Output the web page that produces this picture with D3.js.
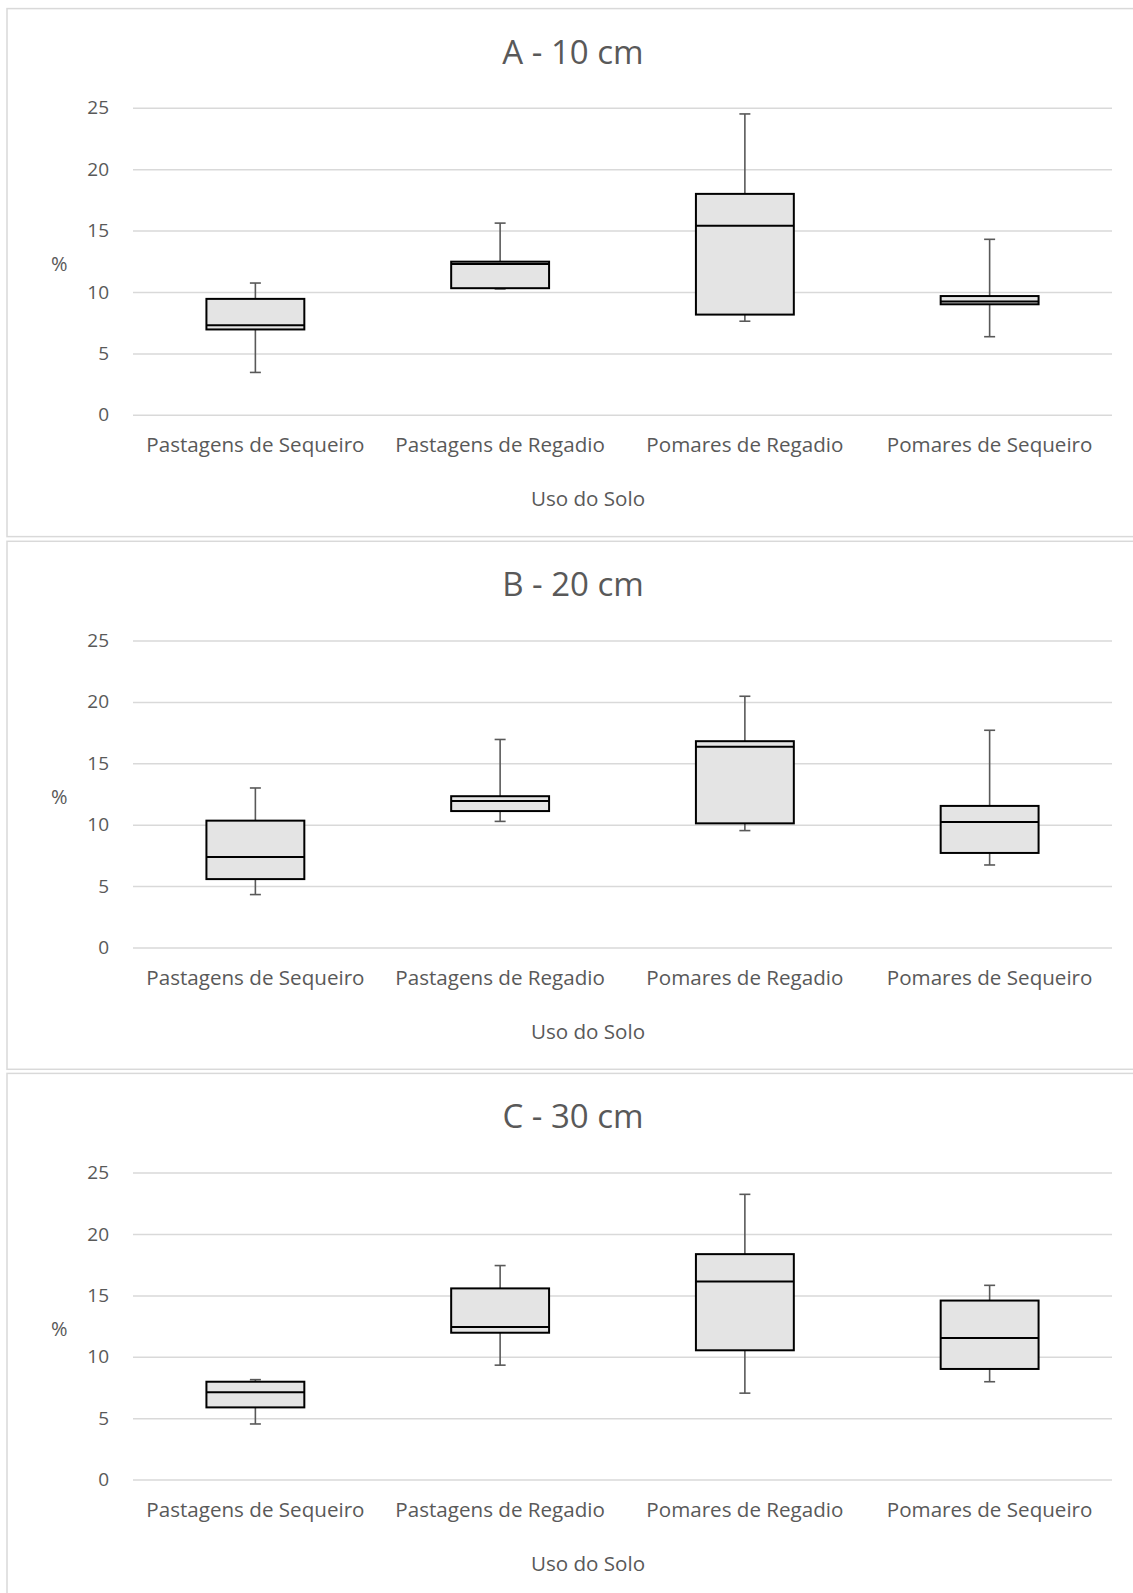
<!DOCTYPE html>
<html>
<head>
<meta charset="utf-8">
<script src="https://cdn.jsdelivr.net/npm/d3@7"></script>
<style>
  body { margin: 0; background: #fff; }
  svg text { font-family: "Open Sans", sans-serif; fill: #595959; }
</style>
</head>
<body>
<svg id="chart" width="1133" height="1593"></svg>
<script>
// categories (land use)
const categories = ["Pastagens de Sequeiro", "Pastagens de Regadio", "Pomares de Regadio", "Pomares de Sequeiro"];
const panelTitles = ["A - 10 cm", "B - 20 cm", "C - 30 cm"];
const yTicks = [0, 5, 10, 15, 20, 25];

// box stats per panel: [min, q1, median, q3, max] for each category
const statsA = [
  [3.45, 6.95, 7.29, 9.44, 10.73],
  [10.25, 10.31, 12.28, 12.47, 15.61],
  [7.62, 8.16, 15.39, 17.99, 24.5],
  [6.36, 9.0, 9.22, 9.67, 14.29]
];
const statsB = [
  [4.31, 5.57, 7.36, 10.33, 12.99],
  [10.27, 11.11, 11.93, 12.32, 16.94],
  [9.52, 10.11, 16.35, 16.8, 20.46],
  [6.72, 7.7, 10.22, 11.53, 17.69]
];
const statsC = [
  [4.53, 5.88, 7.12, 7.97, 8.14],
  [9.32, 11.96, 12.42, 15.57, 17.43],
  [7.04, 10.53, 16.13, 18.36, 23.23],
  [7.97, 9.01, 11.54, 14.58, 15.82]
];
const allStats = [statsA, statsB, statsC];

const svg = d3.select("#chart");
svg.append("rect").attr("width", 1133).attr("height", 1593).attr("fill", "#fff");

const panelTops = [8.6, 541.3, 1073.4];
const plotLeft = 133, plotRight = 1112;

const x = d3.scaleBand()
  .domain(categories)
  .range([plotLeft, plotRight])
  .padding(0);

panelTitles.forEach((title, i) => {
  const top = panelTops[i];
  const g = svg.append("g");

  g.append("rect")
    .attr("x", 7).attr("y", top)
    .attr("width", 1140).attr("height", 528)
    .attr("fill", "#fff")
    .attr("stroke", "#d9d9d9")
    .attr("stroke-width", 1.5);

  const y = d3.scaleLinear()
    .domain([0, 25])
    .range([top + 99.2 + 307, top + 99.2]);

  // gridlines + y labels
  const yAxis = g.append("g")
    .attr("transform", `translate(${plotLeft},0)`)
    .call(d3.axisLeft(y).tickValues(yTicks).tickSize(-(plotRight - plotLeft)).tickPadding(24));
  yAxis.select(".domain").remove();
  yAxis.selectAll(".tick line").attr("stroke", "#d9d9d9").attr("stroke-width", 1.5);
  yAxis.selectAll(".tick text")
    .style("font-family", "Open Sans").style("font-size", "19px").attr("fill", "#595959");

  // x category labels
  const xAxis = g.append("g")
    .attr("transform", `translate(0,${y(0)})`)
    .call(d3.axisBottom(x).tickSize(0).tickPadding(23));
  xAxis.select(".domain").remove();
  xAxis.selectAll(".tick text")
    .style("font-family", "Open Sans").style("font-size", "20.6px").attr("fill", "#595959");

  // title
  g.append("text")
    .attr("x", 573).attr("y", top + 55)
    .attr("text-anchor", "middle")
    .style("font-size", "33px")
    .text(title);

  // axis titles
  g.append("text")
    .attr("x", 588).attr("y", y(0) + 91)
    .attr("text-anchor", "middle")
    .style("font-size", "20.6px")
    .text("Uso do Solo");
  g.append("text")
    .attr("x", 59.3).attr("y", (y(0) + y(25)) / 2 + 10)
    .attr("text-anchor", "middle")
    .style("font-size", "20px")
    .text("%");

  // boxes
  const bw = x.bandwidth() * 0.4;
  const capW = 11;
  const boxes = g.selectAll("g.box")
    .data(allStats[i].map((s, j) => ({ cat: categories[j], s })))
    .join("g").attr("class", "box");

  boxes.each(function (d) {
    const b = d3.select(this);
    const cx = x(d.cat) + x.bandwidth() / 2;
    const [mn, q1, md, q3, mx] = d.s;
    // whiskers
    b.append("line").attr("x1", cx).attr("x2", cx).attr("y1", y(mx)).attr("y2", y(q3))
      .attr("stroke", "#595959").attr("stroke-width", 1.6);
    b.append("line").attr("x1", cx).attr("x2", cx).attr("y1", y(q1)).attr("y2", y(mn))
      .attr("stroke", "#595959").attr("stroke-width", 1.6);
    b.append("line").attr("x1", cx - capW / 2).attr("x2", cx + capW / 2).attr("y1", y(mx)).attr("y2", y(mx))
      .attr("stroke", "#595959").attr("stroke-width", 1.6);
    b.append("line").attr("x1", cx - capW / 2).attr("x2", cx + capW / 2).attr("y1", y(mn)).attr("y2", y(mn))
      .attr("stroke", "#595959").attr("stroke-width", 1.6);
    // box
    b.append("rect")
      .attr("x", cx - bw / 2).attr("y", y(q3))
      .attr("width", bw).attr("height", y(q1) - y(q3))
      .attr("fill", "#e4e4e4").attr("stroke", "#000").attr("stroke-width", 2);
    // median
    b.append("line").attr("x1", cx - bw / 2).attr("x2", cx + bw / 2).attr("y1", y(md)).attr("y2", y(md))
      .attr("stroke", "#000").attr("stroke-width", 2);
  });
});
</script>
</body>
</html>
